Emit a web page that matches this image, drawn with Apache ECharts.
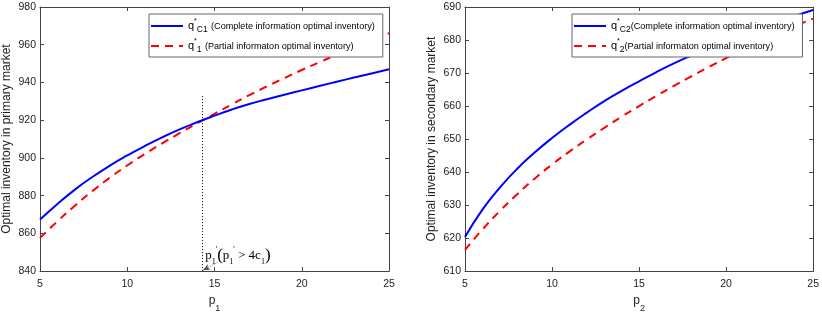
<!DOCTYPE html>
<html>
<head>
<meta charset="utf-8">
<script src="https://cdn.jsdelivr.net/npm/echarts@6/dist/echarts.min.js"></script>
<style>html,body{margin:0;padding:0;background:#fff}#c{width:822px;height:318px}</style>
</head>
<body>
<div id="c"></div>
<script>
// ---- data ----
const pValues = [5,6,7,8,9,10,11,12,13,14,15,16,17,18,19,20,21,22,23,24,25];
const qC1 = [867.3,875.6,883.2,889.9,895.9,901.3,906.3,910.9,915.1,918.9,922.4,925.7,928.6,931.1,933.5,935.8,938.1,940.4,942.6,944.8,947.0];
const q1  = [857.6,866.4,874.7,882.4,889.5,896.0,902.0,907.7,913.1,918.3,923.4,928.4,933.3,937.9,942.3,946.6,950.7,954.7,958.6,962.4,966.1];
const qC2 = [620.3,628.6,635.3,641.0,645.9,650.3,654.3,658.0,661.5,664.6,667.5,670.3,672.9,675.3,677.6,679.8,681.9,683.8,685.6,687.4,689.1];
const q2  = [616.4,622.6,628.2,633.3,638.0,642.3,646.2,649.9,653.4,656.8,660.0,663.1,666.1,669.0,671.8,674.5,677.1,679.6,682.0,684.3,686.5];
const y1Range = [840, 980, 20];
const y2Range = [610, 690, 10];
// threshold annotation p1' (p1' > 4c1)
const thresholdP = 14.28;
const thresholdTop = 933.7;
const arrowFrom = [15.3, 845.2];
const arrowTo = [14.34, 840.5];
const annotPos = [16.34, 848.3];

const pair = (ys) => pValues.map((x, i) => [x, ys[i]]);

const axisColor = '#444';
const labelColor = '#222';
const tickFont = 'Liberation Sans';

function xAxisBottom(gi, sub) {
  return {
    type: 'value', gridIndex: gi, min: 5, max: 25, interval: 5, position: 'bottom',
    axisLine: { show: true, lineStyle: { color: axisColor, width: 1 } },
    axisTick: { show: true, inside: true, length: 4, lineStyle: { color: axisColor } },
    axisLabel: { color: labelColor, fontSize: 10.5, fontFamily: tickFont, margin: 8 },
    splitLine: { show: false },
    name: '{p|p}{s|' + sub + '}', nameLocation: 'middle', nameGap: 20,
    nameTextStyle: { color: labelColor, fontFamily: tickFont,
      rich: { p: { fontSize: 12, fontFamily: tickFont, color: labelColor, lineHeight: 18, verticalAlign: 'top' },
              s: { fontSize: 9, fontFamily: tickFont, color: labelColor, lineHeight: 9, verticalAlign: 'bottom' } } }
  };
}
function xAxisTop(gi) {
  return {
    type: 'value', gridIndex: gi, min: 5, max: 25, interval: 5, position: 'top',
    axisLine: { show: true, lineStyle: { color: axisColor, width: 1 } },
    axisTick: { show: true, inside: true, length: 4, lineStyle: { color: axisColor } },
    axisLabel: { show: false }, splitLine: { show: false }
  };
}
function yAxisLeft(gi, r, name) {
  return {
    type: 'value', gridIndex: gi, min: r[0], max: r[1], interval: r[2], position: 'left',
    axisLine: { show: true, lineStyle: { color: axisColor, width: 1 } },
    axisTick: { show: true, inside: true, length: 4, lineStyle: { color: axisColor } },
    axisLabel: { color: labelColor, fontSize: 10.5, fontFamily: tickFont, margin: 4 },
    splitLine: { show: false },
    name: name, nameLocation: 'middle', nameGap: 27,
    nameTextStyle: { color: labelColor, fontSize: 12, fontFamily: tickFont }
  };
}
function yAxisRight(gi, r) {
  return {
    type: 'value', gridIndex: gi, min: r[0], max: r[1], interval: r[2], position: 'right',
    axisLine: { show: true, lineStyle: { color: axisColor, width: 1 } },
    axisTick: { show: true, inside: true, length: 4, lineStyle: { color: axisColor } },
    axisLabel: { show: false }, splitLine: { show: false }
  };
}

const legRich = {
  q: { fontSize: 11, fontFamily: tickFont, color: '#000', lineHeight: 16 },
  sup: { fontSize: 7, fontFamily: tickFont, color: '#000', lineHeight: 7, verticalAlign: 'top' },
  sub: { fontSize: 8.5, fontFamily: tickFont, color: '#000', lineHeight: 8, verticalAlign: 'bottom' },
  t: { fontSize: 9.1, fontFamily: tickFont, color: '#000', lineHeight: 16 }
};
const legendNames = {
  C1: '{q|q}{sup|*}{sub|C1} {t|(Complete information optimal inventory)}',
  P1: '{q|q}{sup|*}{sub|1} {t|(Partial informaton optimal inventory)}',
  C2: '{q|q}{sup|*}{sub|C2}{t|(Complete information optimal inventory)}',
  P2: '{q|q}{sup|*}{sub|2}{t|(Partial informaton optimal inventory)}'
};
function legend(left, names) {
  return {
    left: left, top: 14, orient: 'vertical',
    data: names, itemWidth: 32, itemHeight: 14, itemGap: 4,
    padding: [4, 8, 3, 1],
    backgroundColor: '#fff', borderColor: '#666', borderWidth: 1, borderRadius: 0,
    itemStyle: { color: 'rgba(0,0,0,0)', borderWidth: 0, opacity: 0 },
    formatter: (n) => legendNames[n],
    textStyle: { rich: legRich },
    selectedMode: false
  };
}

const solid = (color) => ({ color: color, width: 2, type: 'solid' });
const dashed = (color) => ({ color: color, width: 2, type: [8, 6] });

const annotRich = {
  m: { fontFamily: 'Liberation Serif', fontSize: 13, color: '#000', lineHeight: 20 },
  par: { fontFamily: 'Liberation Serif', fontSize: 17, color: '#000', lineHeight: 20 },
  sub: { fontFamily: 'Liberation Serif', fontSize: 8, color: '#000', lineHeight: 8, verticalAlign: 'bottom' },
  sup: { fontFamily: 'Liberation Serif', fontSize: 8, color: '#000', lineHeight: 8, verticalAlign: 'top' }
};

const option = {
  animation: false,
  backgroundColor: '#fff',
  grid: [
    { left: 40, right: 433, top: 7, bottom: 40, containLabel: false },
    { left: 465, right: 7, top: 7, bottom: 39, containLabel: false }
  ],
  xAxis: [ xAxisBottom(0, '1'), xAxisTop(0), xAxisBottom(1, '2'), xAxisTop(1) ],
  yAxis: [
    yAxisLeft(0, y1Range, 'Optimal inventory in primary market'), yAxisRight(0, y1Range),
    yAxisLeft(1, y2Range, 'Optimal inventory in secondary market'), yAxisRight(1, y2Range)
  ],
  legend: [ legend(149, ['C1', 'P1']), legend(572, ['C2', 'P2']) ],
  series: [
    { name: 'C1', type: 'line', xAxisIndex: 0, yAxisIndex: 0, data: pair(qC1), symbol: 'none', smooth: true,
      lineStyle: solid('#0000ff'), itemStyle: { color: '#0000ff' }, z: 3,
      markLine: {
        silent: true, animation: false, label: { show: false }, symbol: ['none', 'none'],
        data: [
          [ { coord: [thresholdP, y1Range[0]], lineStyle: { type: [1, 2], color: '#000', width: 1 } },
            { coord: [thresholdP, thresholdTop] } ],
          [ { coord: arrowFrom, symbol: 'none', lineStyle: { type: [1, 1.5], color: '#555', width: 1 } },
            { coord: arrowTo, symbol: 'arrow', symbolSize: [5, 7] } ]
        ]
      },
      markPoint: {
        silent: true, animation: false, symbol: 'circle', symbolSize: 0,
        data: [ { coord: annotPos, label: { show: true, position: 'inside',
          formatter: '{m|p}{sub|1}{sup|\'}{par|(}{m|p}{sub|1}{sup|\'}{m| > 4c}{sub|1}{par|)}',
          rich: annotRich } } ]
      }
    },
    { name: 'P1', type: 'line', xAxisIndex: 0, yAxisIndex: 0, data: pair(q1), symbol: 'none', smooth: true,
      lineStyle: dashed('#ff0000'), itemStyle: { color: '#ff0000' }, z: 2 },
    { name: 'C2', type: 'line', xAxisIndex: 2, yAxisIndex: 2, data: pair(qC2), symbol: 'none', smooth: true,
      lineStyle: solid('#0000ff'), itemStyle: { color: '#0000ff' }, z: 3 },
    { name: 'P2', type: 'line', xAxisIndex: 2, yAxisIndex: 2, data: pair(q2), symbol: 'none', smooth: true,
      lineStyle: dashed('#ff0000'), itemStyle: { color: '#ff0000' }, z: 2 }
  ]
};
const chart = echarts.init(document.getElementById('c'), null, { renderer: 'canvas' });
chart.setOption(option);
</script>
</body>
</html>
